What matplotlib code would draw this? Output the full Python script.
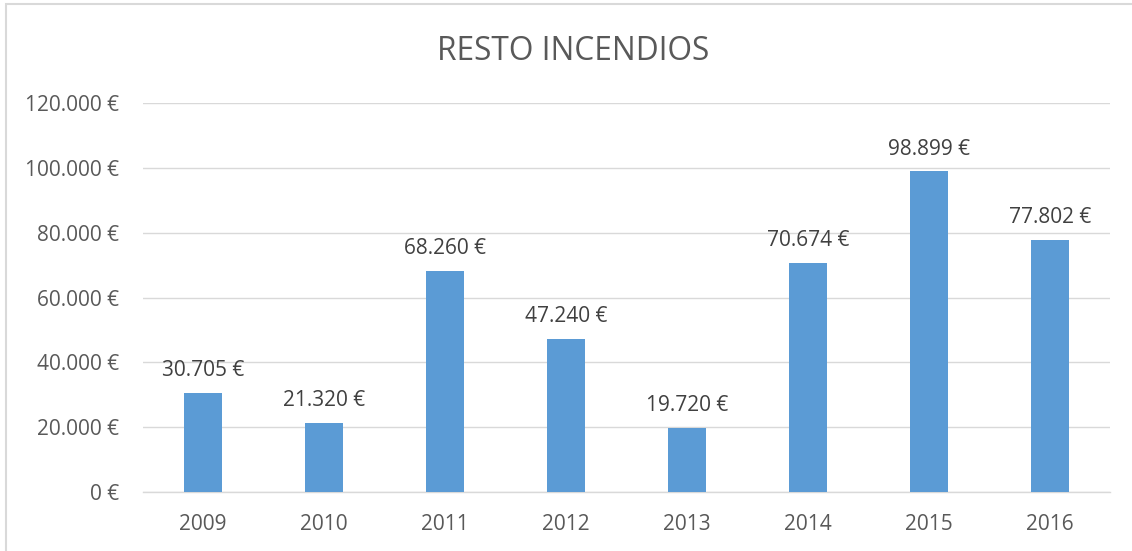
import matplotlib
matplotlib.use("Agg")
import matplotlib.pyplot as plt
from matplotlib.patches import Rectangle
from matplotlib.ticker import FuncFormatter

# Data
years = ["2009", "2010", "2011", "2012", "2013", "2014", "2015", "2016"]
values = [30705, 21320, 68260, 47240, 19720, 70674, 98899, 77802]
yticks = [0, 20000, 40000, 60000, 80000, 100000, 120000]
title = "RESTO INCENDIOS"

plt.rcParams["font.family"] = ["Open Sans", "DejaVu Sans"]


def euro(v, _=None):
    """Format a number with dot thousands separator and euro sign."""
    return f"{int(round(v)):,}".replace(",", ".") + " €"


fig = plt.figure(figsize=(11.32, 5.51), dpi=100)
axis = fig.add_axes([0.1259, 0.107, 0.855, 0.706])

xpos = list(range(len(years)))
axis.bar(xpos, values, width=0.31, color="#5B9BD5", zorder=3)

for x, v in zip(xpos, values):
    axis.annotate(
        euro(v),
        (x, v),
        xytext=(0, 12),
        textcoords="offset points",
        ha="center",
        va="baseline",
        fontsize=15,
        color="#404040",
    )

axis.set_xlim(-0.5, len(years) - 0.5)
axis.set_ylim(0, 120000)
axis.set_yticks(yticks)
axis.yaxis.set_major_formatter(FuncFormatter(euro))
axis.set_xticks(xpos)
axis.set_xticklabels(years)
axis.tick_params(axis="both", length=0, labelsize=15, labelcolor="#595959")
axis.tick_params(axis="y", pad=17)
axis.tick_params(axis="x", pad=16)
axis.grid(axis="y", color="#D9D9D9", linewidth=1.0, zorder=0)
for side in ["top", "right", "left"]:
    axis.spines[side].set_visible(False)
axis.spines["bottom"].set_color("#D9D9D9")
axis.spines["bottom"].set_linewidth(1.0)

fig.text(0.5066, 0.907, title, ha="center", va="center", fontsize=22.8, color="#595959")

# chart frame: only the left and top edges are inside the picture
fig.patches.append(
    Rectangle(
        (6 / 1132, -0.05),
        1.1,
        1.05 - 4 / 551,
        transform=fig.transFigure,
        fill=False,
        edgecolor="#D9D9D9",
        linewidth=1.5,
    )
)

fig.savefig("out.png", dpi=100)
plt.close()
